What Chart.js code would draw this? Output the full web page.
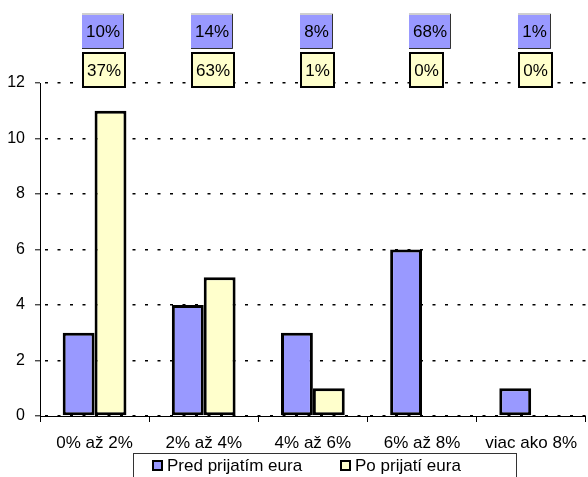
<!DOCTYPE html>
<html>
<head>
<meta charset="utf-8">
<script src="https://cdn.jsdelivr.net/npm/chart.js@4/dist/chart.umd.min.js"></script>
<style>
  html, body { margin: 0; padding: 0; background: #fff; }
  canvas { display: block; }
</style>
</head>
<body>
<canvas id="c" width="588" height="477"></canvas>
<script>
// Inflation bands and respondent counts before / after the euro
const categories = ['0% až 2%', '2% až 4%', '4% až 6%', '6% až 8%', 'viac ako 8%'];
const predValues = [3, 4, 3, 6, 1];
const poValues = [11, 5, 1, 0, 0];
// Share labels shown above each band
const predShares = ['10%', '14%', '8%', '68%', '1%'];
const poShares = ['37%', '63%', '1%', '0%', '0%'];
const seriesNames = ['Pred prijatím eura', 'Po prijatí eura'];
const yMax = 12;
const yStep = 2;

const FONT = "'Liberation Sans', Arial, sans-serif";
const BLUE = '#9999FF';
const YELLOW = '#FFFFCC';

// Share boxes above the plot and the framed legend below it
const decorations = {
  id: 'decorations',
  afterDraw(chart) {
    const ctx = chart.ctx;
    const x = chart.scales.x;
    ctx.save();
    ctx.font = '17px ' + FONT;
    ctx.textBaseline = 'middle';
    ctx.textAlign = 'center';
    categories.forEach((_, i) => {
      const cx = x.getPixelForValue(i);
      const left = Math.round(cx - 13);
      // upper box (before the euro)
      let w = Math.round(ctx.measureText(predShares[i]).width + 8);
      ctx.fillStyle = BLUE;
      ctx.fillRect(left, 13, w, 36);
      ctx.fillStyle = '#cfcfcf';
      ctx.fillRect(left, 13, w, 2);
      ctx.strokeStyle = '#333';
      ctx.lineWidth = 1;
      ctx.beginPath();
      ctx.moveTo(left + w - 0.5, 14);
      ctx.lineTo(left + w - 0.5, 48.5);
      ctx.lineTo(left, 48.5);
      ctx.stroke();
      ctx.fillStyle = '#000';
      ctx.fillText(predShares[i], left + w / 2, 32);
      // lower box (after the euro)
      w = Math.round(ctx.measureText(poShares[i]).width + 10);
      ctx.fillStyle = YELLOW;
      ctx.fillRect(left, 52, w, 36);
      ctx.strokeStyle = '#000';
      ctx.lineWidth = 2;
      ctx.strokeRect(left + 1, 53, w - 2, 34);
      ctx.fillStyle = '#000';
      ctx.fillText(poShares[i], left + w / 2, 71);
    });

    // legend frame
    ctx.strokeStyle = '#333';
    ctx.lineWidth = 1;
    ctx.strokeRect(133.5, 453.5, 383, 40);
    const items = [
      { x: 152, color: BLUE, text: seriesNames[0] },
      { x: 340, color: YELLOW, text: seriesNames[1] }
    ];
    ctx.textAlign = 'left';
    ctx.textBaseline = 'alphabetic';
    items.forEach(it => {
      ctx.fillStyle = '#000';
      ctx.fillRect(it.x, 460, 11, 11);
      ctx.fillStyle = it.color;
      ctx.fillRect(it.x + 2, 462, 7, 7);
      ctx.fillStyle = '#000';
      ctx.fillText(it.text, it.x + 15, 471);
    });
    ctx.restore();
  }
};

new Chart(document.getElementById('c'), {
  type: 'bar',
  data: {
    labels: categories,
    datasets: [
      {
        label: seriesNames[0],
        data: predValues,
        backgroundColor: BLUE,
        borderColor: '#000',
        borderWidth: 3,
        borderSkipped: false
      },
      {
        label: seriesNames[1],
        data: poValues,
        backgroundColor: YELLOW,
        borderColor: '#000',
        borderWidth: 3,
        borderSkipped: false
      }
    ]
  },
  options: {
    responsive: false,
    animation: false,
    devicePixelRatio: 1,
    layout: { padding: { top: 83, left: 0, right: 0, bottom: 27 } },
    datasets: { bar: { categoryPercentage: 0.584, barPercentage: 1 } },
    plugins: {
      legend: { display: false },
      tooltip: { enabled: false },
      title: { display: false }
    },
    scales: {
      x: {
        afterFit(s) { s.height = 34; },
        grid: {
          display: true,
          drawOnChartArea: false,
          drawTicks: true,
          tickLength: 6,
          color: '#000',
          offset: true
        },
        border: { display: true, color: '#000', width: 1 },
        ticks: {
          color: '#000',
          padding: 11,
          maxRotation: 0,
          autoSkip: false,
          font: { family: FONT, size: 17 }
        }
      },
      y: {
        min: 0,
        max: yMax,
        afterFit(s) { s.width = 40; },
        grid: {
          color: '#000',
          lineWidth: 1.6,
          tickLength: 5,
          tickColor: '#000',
          tickWidth: 1,
          tickBorderDash: []
        },
        border: { display: true, color: '#000', width: 1, dash: [3, 9.5], dashOffset: -4 },
        ticks: {
          stepSize: yStep,
          color: '#000',
          padding: 10,
          font: { family: FONT, size: 16 }
        }
      }
    }
  },
  plugins: [decorations]
});
</script>
</body>
</html>
